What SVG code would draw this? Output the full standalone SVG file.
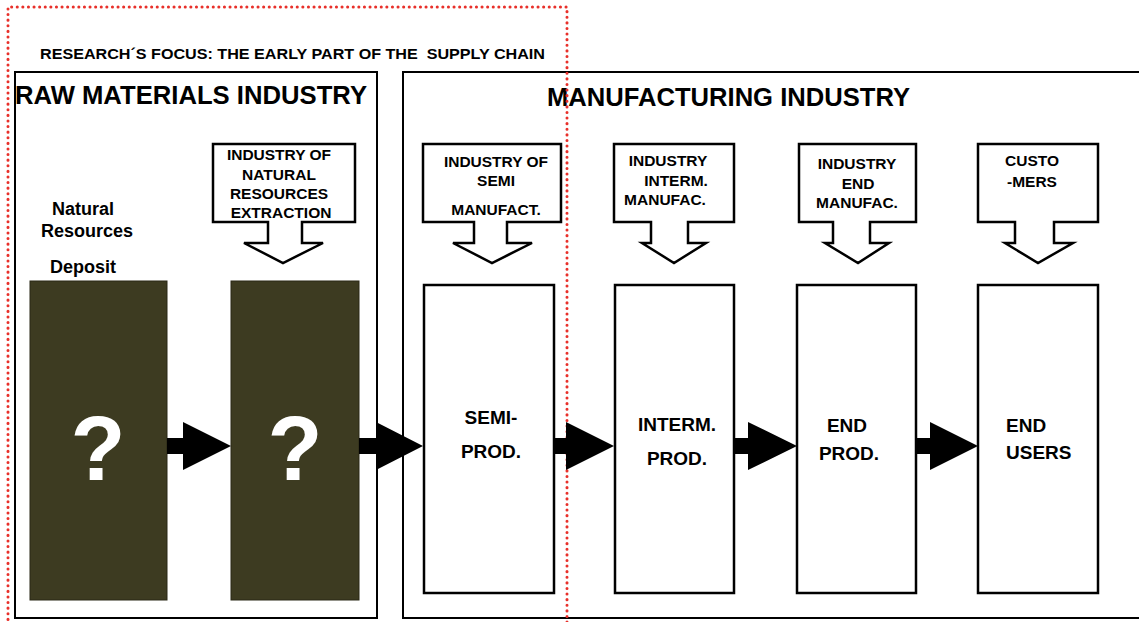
<svg xmlns="http://www.w3.org/2000/svg" width="1139" height="622" viewBox="0 0 1139 622">
<style>
text{font-family:"Liberation Sans",Arial,sans-serif;font-weight:bold;fill:#000}
.frame{fill:#fff;stroke:#000;stroke-width:2}
.dark{fill:#3d3b21;stroke:#2a2917;stroke-width:1}
.prod{fill:#fff;stroke:#000;stroke-width:2.5}
.callout{fill:#fff;stroke:#000;stroke-width:2.5;stroke-linejoin:miter}
.arrow{fill:#000}
.ct{font-size:15.5px;text-anchor:middle}
.pt{font-size:19px;text-anchor:middle}
.q{font-size:90px;fill:#fff;text-anchor:middle}
.nt{font-size:18px;text-anchor:middle}
.title{font-size:25px}
.focus{fill:none;stroke:#e8302a;stroke-width:3;stroke-dasharray:0.1 5.5;stroke-linecap:round}
</style>
<g id="raw-materials-industry">
<rect class="frame" x="15" y="72" width="362" height="546"/>
<text class="title" x="15" y="104" textLength="352" lengthAdjust="spacingAndGlyphs">RAW MATERIALS INDUSTRY</text>
</g>
<g id="manufacturing-industry">
<rect class="frame" x="403" y="72" width="750" height="546"/>
<text class="title" x="547" y="106" textLength="363" lengthAdjust="spacingAndGlyphs">MANUFACTURING INDUSTRY</text>
</g>
<g id="natural-resources-deposit">
<text class="nt" x="83" y="215">Natural</text>
<text class="nt" x="87" y="237">Resources</text>
<text class="nt" x="83" y="273">Deposit</text>
<rect class="dark" x="30" y="281" width="137" height="319"/>
<text class="q" x="98" y="480">?</text>
</g>
<g id="extraction">
<rect class="dark" x="231" y="281" width="128" height="319"/>
<text class="q" x="295" y="480">?</text>
</g>
<g id="callout-extraction">
<path class="callout" d="M213,144 H355 V222 H302 V243 H323 L283,263 L244,243 H268 V222 H213 Z"/>
<text class="ct" x="279" y="160">INDUSTRY OF</text>
<text class="ct" x="279" y="180">NATURAL</text>
<text class="ct" x="279" y="199">RESOURCES</text>
<text class="ct" x="281" y="218">EXTRACTION</text>
</g>
<g id="callout-semi">
<path class="callout" d="M423,144 H561 V222 H507 V243 H532 L492,263 L453,243 H474 V222 H423 Z"/>
<text class="ct" x="496" y="167">INDUSTRY OF</text>
<text class="ct" x="496" y="186">SEMI</text>
<text class="ct" x="496" y="215">MANUFACT.</text>
</g>
<g id="callout-interm">
<path class="callout" d="M614,144 H734 V222 H688 V243 H706 L674,263 L642,243 H651 V222 H614 Z"/>
<text class="ct" x="668" y="166">INDUSTRY</text>
<text class="ct" x="676" y="186">INTERM.</text>
<text class="ct" x="665" y="205">MANUFAC.</text>
</g>
<g id="callout-end">
<path class="callout" d="M799,144 H916 V222 H870 V243 H889 L858,263 L825,243 H833 V222 H799 Z"/>
<text class="ct" x="857" y="169">INDUSTRY</text>
<text class="ct" x="858" y="189">END</text>
<text class="ct" x="857" y="208">MANUFAC.</text>
</g>
<g id="callout-customers">
<path class="callout" d="M978,144 H1098 V222 H1054 V243 H1073 L1038,263 L1005,243 H1015 V222 H978 Z"/>
<text class="ct" x="1032" y="166">CUSTO</text>
<text class="ct" x="1032" y="187">-MERS</text>
</g>
<g id="semi-prod">
<rect class="prod" x="424" y="285" width="130" height="308"/>
<text class="pt" x="491" y="424">SEMI-</text>
<text class="pt" x="491" y="458">PROD.</text>
</g>
<g id="interm-prod">
<rect class="prod" x="615" y="285" width="119" height="308"/>
<text class="pt" x="677" y="431">INTERM.</text>
<text class="pt" x="677" y="465">PROD.</text>
</g>
<g id="end-prod">
<rect class="prod" x="797" y="285" width="119" height="308"/>
<text class="pt" x="847" y="432">END</text>
<text class="pt" x="849" y="460">PROD.</text>
</g>
<g id="end-users">
<rect class="prod" x="978" y="285" width="120" height="308"/>
<text class="pt" x="1006" y="432" style="text-anchor:start">END</text>
<text class="pt" x="1006" y="459" style="text-anchor:start">USERS</text>
</g>
<g id="research-focus">
<path class="focus" d="M8,625 V7 H567 V625"/>
<text x="40" y="59" style="font-size:15px;white-space:pre" textLength="505" lengthAdjust="spacingAndGlyphs">RESEARCH´S FOCUS: THE EARLY PART OF THE  SUPPLY CHAIN</text>
</g>
<g id="connectors">
<path class="arrow" d="M167,438 H183 V422 L231,446 L183,470 V454 H167 Z"/>
<path class="arrow" d="M359,438 H376 V422 L423,446 L376,470 V454 H359 Z"/>
<path class="arrow" d="M554,438 H566 V422 L614,446 L566,470 V454 H554 Z"/>
<path class="arrow" d="M734,438 H748 V422 L797,446 L748,470 V454 H734 Z"/>
<path class="arrow" d="M916,438 H930 V422 L978,446 L930,470 V454 H916 Z"/>
</g>
</svg>
